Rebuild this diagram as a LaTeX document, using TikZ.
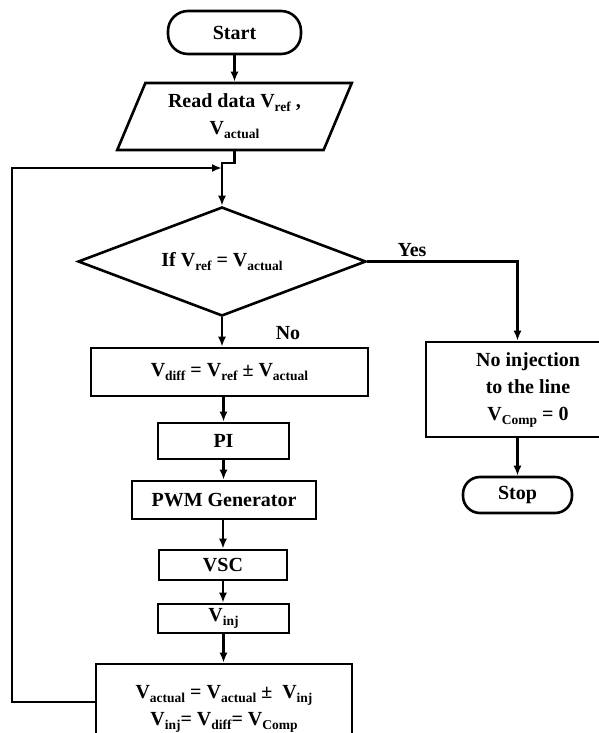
\documentclass[tikz,border=0pt]{standalone}
\usepackage{fontspec}
\setmainfont{Liberation Serif}
\usetikzlibrary{shapes.geometric,arrows.meta,calc}
\newcommand\sbx[1]{\raisebox{-4pt}{\fontsize{13.5}{14}\selectfont #1}}
\begin{document}
\begin{tikzpicture}[x=1pt,y=-1pt,
  every node/.style={font=\fontsize{20}{27}\selectfont\bfseries, align=center, inner sep=0pt},
  box/.style={draw, line width=2.6pt, rectangle},
  term/.style={draw, line width=2.6pt, rectangle, rounded corners=20pt},
  conn/.style={line width=2.2pt, -{Latex[length=10pt,width=8pt]}},
  lineonly/.style={line width=2.2pt}]
\useasboundingbox (0,0) rectangle (599,733);
\clip (0,0) rectangle (599,733);

\node[term, minimum width=133pt, minimum height=43pt] (start) at (234.5,32.5) {Start};
\node[draw, line width=2.6pt, shape=trapezium, trapezium left angle=65, trapezium right angle=115,
      trapezium stretches=true, minimum width=235pt, minimum height=67pt] (read) at (234.5,116.5)
      {Read data V\sbx{ref} ,\\V\sbx{actual}};
\node[draw, line width=2.6pt, shape=diamond, aspect=2.6, minimum width=288pt, minimum height=109pt] (dec) at (222,261.5)
      {If V\sbx{ref} = V\sbx{actual}};
\node[box, minimum width=277pt, minimum height=48pt] (diff) at (229.5,372)
      {V\sbx{diff} = V\sbx{ref} ± V\sbx{actual}};
\node[box, minimum width=131pt, minimum height=36pt] (pi) at (223.5,441) {PI};
\node[box, minimum width=184pt, minimum height=38pt] (pwm) at (224,500) {PWM Generator};
\node[box, minimum width=128pt, minimum height=30pt] (vsc) at (223,565) {VSC};
\node[box, minimum width=131pt, minimum height=29pt] (vinj) at (223.5,618.5) {V\sbx{inj}};
\node[box, minimum width=256pt, minimum height=90pt] (upd) at (224,709)
      {V\sbx{actual} = V\sbx{actual} ±~~V\sbx{inj}\\V\sbx{inj}= V\sbx{diff}= V\sbx{Comp}};
\node[box, minimum width=204pt, minimum height=95pt] (noinj) at (528,389.5)
      {No injection\\to the line\\V\sbx{Comp} = 0};
\node[term, minimum width=109pt, minimum height=36pt, rounded corners=17pt] (stop) at (517.5,495) {Stop};

\node (yes) at (412,250) {Yes};
\node (no) at (288,333) {No};

\coordinate (merge) at (222,168);
\coordinate (loopX) at (12,168);

\draw[conn] (start) -- (read);
\draw[conn] (read.south) -- ++(0,12) -| (dec.north);
\draw[conn] ([yshift=7pt]upd.west) -| (loopX) -- (merge);
\draw[conn] (dec.south) -- (dec.south |- diff.north);
\draw[conn] (pi.north |- diff.south) -- (pi.north);
\draw[conn] (pi.south) -- (pi.south |- pwm.north);
\draw[conn] (pwm.south) -- (pwm.south -| vsc.north) -- (vsc.north);
\draw[conn] (vsc.south) -- (vsc.south |- vinj.north);
\draw[conn] (vinj.south) -- (vinj.south |- upd.north);
\draw[conn] (dec.east) -| (stop.north |- noinj.north);
\draw[conn] (stop.north |- noinj.south) -- (stop.north);
\end{tikzpicture}
\end{document}
